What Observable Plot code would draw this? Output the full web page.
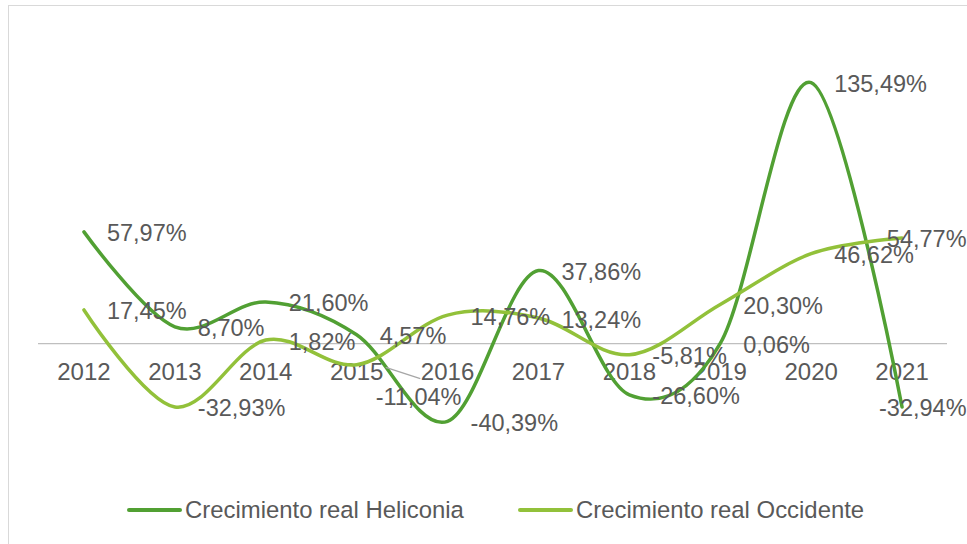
<!DOCTYPE html>
<html>
<head>
<meta charset="utf-8">
<script src="https://cdn.jsdelivr.net/npm/d3@7"></script>
<script src="https://cdn.jsdelivr.net/npm/@observablehq/plot@0.6"></script>
<style>
  body { margin: 0; background: #fff; font-family: "Liberation Sans", Arial, sans-serif; }
  #wrap { position: relative; width: 967px; height: 544px; overflow: hidden; background: #fff; }
  #frame { position: absolute; left: 8px; top: 5px; width: 980px; height: 560px;
           border-left: 1.5px solid #d9d9d9; border-top: 1.5px solid #d9d9d9; box-sizing: border-box; }
  #chart { position: absolute; left: 0; top: 0; }
  #legend { position: absolute; left: 0; top: 480px; width: 967px; height: 64px; }
  .item { position: absolute; top: 18px; height: 24px; display: flex; align-items: center;
          font-size: 23.9px; color: #595959; white-space: nowrap; }
  .swatch { display: inline-block; width: 55px; height: 3.5px; border-radius: 2px; margin-right: 3px; }
</style>
</head>
<body>
<div id="wrap">
  <div id="frame"></div>
  <div id="chart"></div>
  <div id="legend"></div>
</div>
<script>
// ---- data ----
const years = [2012, 2013, 2014, 2015, 2016, 2017, 2018, 2019, 2020, 2021];
const heliconia = [57.97, 8.70, 21.60, 4.57, -40.39, 37.86, -26.60, 0.06, 135.49, -32.94];
const occidente = [17.45, -32.93, 1.82, -11.04, 14.76, 13.24, -5.81, 20.30, 46.62, 54.77];
const seriesNames = ["Crecimiento real Heliconia", "Crecimiento real Occidente"];
const seriesColors = ["#51a033", "#92c13a"];

// ---- table built from arrays ----
const rows = [];
years.forEach((y, i) => rows.push({year: y, value: heliconia[i], series: seriesNames[0]}));
years.forEach((y, i) => rows.push({year: y, value: occidente[i], series: seriesNames[1]}));

const fmt = v => v.toFixed(2).replace(".", ",") + "%";
const textColor = "#595959";
const fs = 23.5;

const lastYear = years[years.length - 1];
const isLeader = d => d.series === seriesNames[1] && d.year === 2015;
const normal = rows.filter(d => d.year !== lastYear && !isLeader(d));
const lastLabels = rows.filter(d => d.year === lastYear);
const leaderLabels = rows.filter(isLeader);

const chart = Plot.plot({
  width: 967,
  height: 480,
  marginLeft: 38,
  marginRight: 20,
  marginTop: 34.84,
  marginBottom: 21.4,
  style: {fontFamily: "'Liberation Sans', Arial, sans-serif", background: "transparent"},
  x: {type: "linear", domain: [2011.5, 2021.5], axis: null},
  y: {domain: [-60, 160], axis: null},
  color: {domain: seriesNames, range: seriesColors},
  marks: [
    Plot.ruleY([0], {stroke: "#bfbfbf", strokeWidth: 1.3}),
    Plot.text(years, {x: d => d, y: 0, text: d => String(d), dy: 29, fontSize: 24, fill: textColor}),
    Plot.line(rows.filter(d => d.series === seriesNames[0]), {x: "year", y: "value", stroke: seriesColors[0], strokeWidth: 3.5, curve: "cardinal"}),
    Plot.line(rows.filter(d => d.series === seriesNames[1]), {x: "year", y: "value", stroke: seriesColors[1], strokeWidth: 3.5, curve: "cardinal"}),
    Plot.link(leaderLabels, {x1: d => d.year + 0.32, y1: d => d.value - 1.4, x2: d => d.year + 0.70, y2: d => d.value - 7.2, stroke: "#a6a6a6", strokeWidth: 1.3}),
    Plot.text(normal, {x: "year", y: "value", text: d => fmt(d.value), textAnchor: "start", dx: 23, dy: 2, fontSize: fs, fill: textColor}),
    Plot.text(leaderLabels, {x: "year", y: "value", text: d => fmt(d.value), textAnchor: "start", dx: 19, dy: 33, fontSize: fs, fill: textColor}),
    Plot.text(lastLabels, {x: "year", y: "value", text: d => fmt(d.value), textAnchor: "end", dx: 64.5, dy: 1.5, fontSize: fs, fill: textColor})
  ]
});
document.getElementById("chart").appendChild(chart);

// ---- legend ----
const legend = document.getElementById("legend");
const legendLeft = [127, 518];
seriesNames.forEach((name, i) => {
  const item = document.createElement("div");
  item.className = "item";
  item.style.left = legendLeft[i] + "px";
  const sw = document.createElement("span");
  sw.className = "swatch";
  sw.style.background = seriesColors[i];
  const t = document.createElement("span");
  t.textContent = name;
  item.appendChild(sw);
  item.appendChild(t);
  legend.appendChild(item);
});
</script>
</body>
</html>
